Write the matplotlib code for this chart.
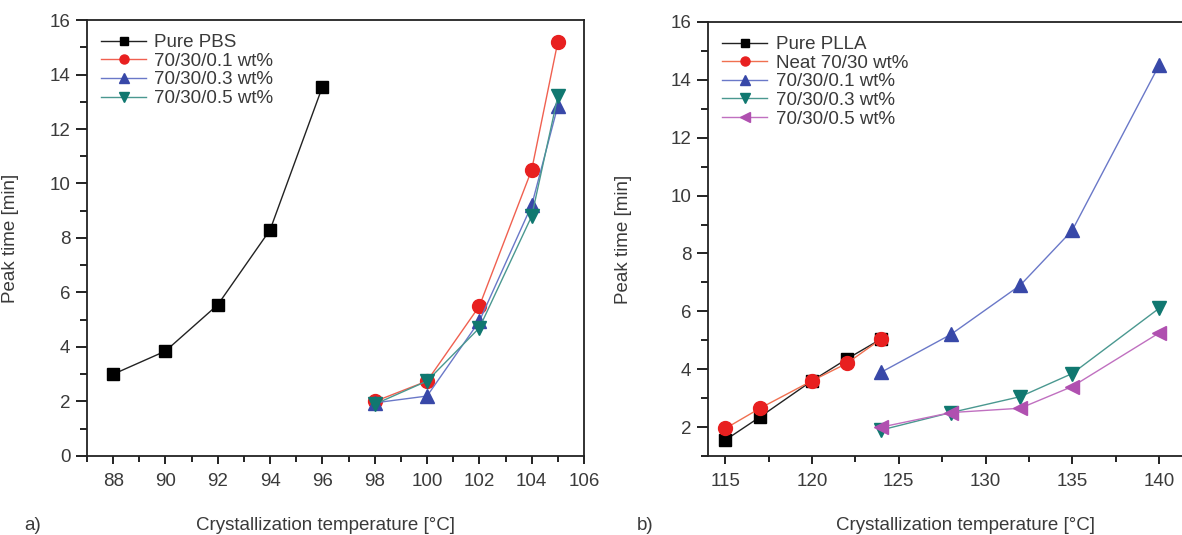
import matplotlib
matplotlib.use("Agg")
import matplotlib.pyplot as plt
from matplotlib.ticker import MultipleLocator

plt.rcParams['font.family'] = ['Liberation Sans', 'DejaVu Sans']

# panel a) PBS blends
t_pbs = [88, 90, 92, 94, 96]
pbs = [3.0, 3.85, 5.55, 8.3, 13.55]
t_a = [98, 100, 102, 104, 105]
a_01 = [2.0, 2.75, 5.5, 10.5, 15.2]
a_03 = [1.95, 2.2, 4.95, 9.2, 12.85]
a_05 = [1.9, 2.75, 4.7, 8.8, 13.2]

# panel b) PLLA blends
t_plla = [115, 117, 120, 122, 124]
plla = [1.55, 2.35, 3.6, 4.35, 5.05]
neat = [1.95, 2.65, 3.6, 4.2, 5.05]
t_b = [124, 128, 132, 135, 140]
b_01 = [3.9, 5.2, 6.9, 8.8, 14.5]
b_03 = [1.9, 2.5, 3.05, 3.85, 6.1]
b_05 = [2.0, 2.5, 2.65, 3.4, 5.25]

text_col = '#3a3a3a'
fs = 13.5
ms = 9

fig = plt.figure(figsize=(11.82, 5.35), dpi=100)
ax1 = fig.add_axes([87 / 1182, 0.1477, 497 / 1182, 0.8149])
ax2 = fig.add_axes([708 / 1182, 0.1477, 477 / 1182, 0.8112])

def style(ax, ylab_x):
    for s in ax.spines.values():
        s.set_linewidth(1.3)
        s.set_color('#222222')
    ax.tick_params(which='both', direction='out', top=False, right=False,
                   labelsize=fs, labelcolor=text_col, color='#222222', width=1.4)
    ax.tick_params(axis='x', which='major', length=6, pad=6)
    ax.tick_params(axis='x', which='minor', length=4)
    ax.tick_params(axis='y', which='major', length=8, pad=4)
    ax.tick_params(axis='y', which='minor', length=5)
    ax.set_ylabel('Peak time [min]', fontsize=fs, color=text_col)
    ax.yaxis.set_label_coords(ylab_x, 0.5)

def legend(ax):
    ax.legend(loc='upper left', frameon=False, fontsize=fs, markerscale=0.65,
              handlelength=2.4, labelspacing=0.08, borderaxespad=0.35, handletextpad=0.45,
              labelcolor=text_col)

ax1.plot(t_pbs, pbs, color='#222222', lw=1, marker='s', ms=ms, mfc='black', mec='black', label='Pure PBS')
ax1.plot(t_a, a_01, color='#f06050', lw=1, marker='o', ms=ms + 1, mfc='#e82020', mec='#e82020', label='70/30/0.1 wt%')
ax1.plot(t_a, a_03, color='#6a78c8', lw=1, marker='^', ms=ms + 1, mfc='#3848a8', mec='#3848a8', label='70/30/0.3 wt%')
ax1.plot(t_a, a_05, color='#4a9890', lw=1, marker='v', ms=ms + 1, mfc='#107870', mec='#107870', label='70/30/0.5 wt%')
ax1.set_xlim(87, 106)
ax1.set_ylim(0, 16)
ax1.xaxis.set_major_locator(MultipleLocator(2))
ax1.xaxis.set_minor_locator(MultipleLocator(1))
ax1.yaxis.set_major_locator(MultipleLocator(2))
ax1.yaxis.set_minor_locator(MultipleLocator(1))
style(ax1, (19 - 87) / 497)
legend(ax1)

ax2.plot(t_plla, plla, color='#222222', lw=1, marker='s', ms=ms, mfc='black', mec='black', label='Pure PLLA')
ax2.plot(t_plla, neat, color='#f07050', lw=1, marker='o', ms=ms + 1, mfc='#e82020', mec='#e82020', label='Neat 70/30 wt%')
ax2.plot(t_b, b_01, color='#6a78c8', lw=1, marker='^', ms=ms + 1, mfc='#3848a8', mec='#3848a8', label='70/30/0.1 wt%')
ax2.plot(t_b, b_03, color='#4a9890', lw=1, marker='v', ms=ms + 1, mfc='#107870', mec='#107870', label='70/30/0.3 wt%')
ax2.plot(t_b, b_05, color='#c070c0', lw=1, marker='<', ms=ms + 1, mfc='#b050b0', mec='#b050b0', label='70/30/0.5 wt%')
ax2.set_xlim(114, 141.5)
ax2.set_ylim(1, 16)
ax2.xaxis.set_major_locator(MultipleLocator(5))
ax2.xaxis.set_minor_locator(MultipleLocator(2.5))
ax2.yaxis.set_major_locator(MultipleLocator(2))
ax2.yaxis.set_minor_locator(MultipleLocator(1))
style(ax2, (632 - 708) / 477)
legend(ax2)

y_lab = 1 - 526 / 535
fig.text(326 / 1182, y_lab, 'Crystallization temperature [°C]', ha='center', va='center',
         fontsize=fs, color=text_col)
fig.text(966 / 1182, y_lab, 'Crystallization temperature [°C]', ha='center', va='center',
         fontsize=fs, color=text_col)
fig.text(33 / 1182, y_lab, 'a)', ha='center', va='center', fontsize=fs, color=text_col)
fig.text(645 / 1182, y_lab, 'b)', ha='center', va='center', fontsize=fs, color=text_col)

fig.savefig('out.png', dpi=100)
